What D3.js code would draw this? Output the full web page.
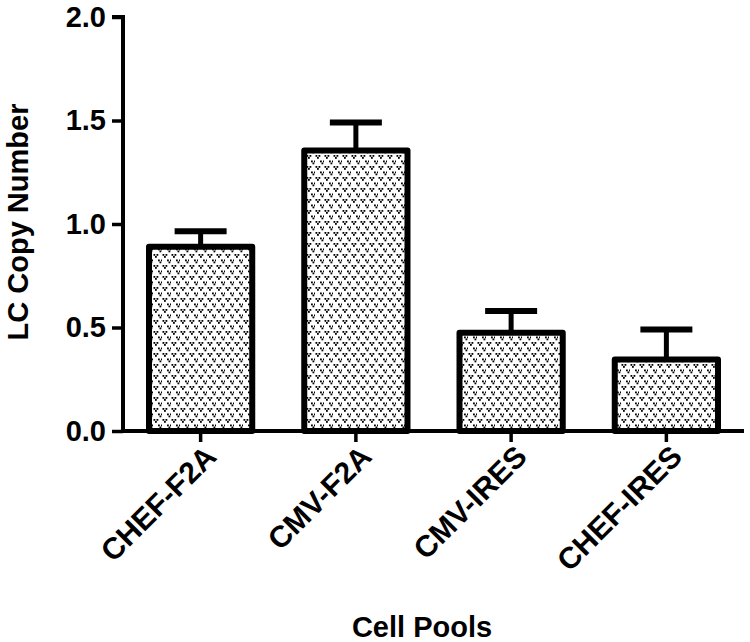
<!DOCTYPE html>
<html><head><meta charset="utf-8">
<script src="https://cdn.jsdelivr.net/npm/d3@7"></script>
<style>body{margin:0;background:#fff}svg{display:block}text{font-family:"Liberation Sans",Arial,sans-serif;font-weight:bold;fill:#000}</style>
</head><body>
<svg id="c" width="750" height="642"></svg>
<script>
const categories = ["CHEF-F2A", "CMV-F2A", "CMV-IRES", "CHEF-IRES"];
const values = [0.89, 1.355, 0.475, 0.345];
const errors = [0.075, 0.135, 0.105, 0.145];
const yTicks = [0.0, 0.5, 1.0, 1.5, 2.0];
const yLabel = "LC Copy Number";
const xLabel = "Cell Pools";

const svg = d3.select("#c");
const x0 = 123, x1 = 744, yTop = 17, yBot = 431;
const x = d3.scaleBand().domain(categories).range([x0, x1]).paddingInner(0.335).paddingOuter(0.1675);
const y = d3.scaleLinear().domain([0, 2]).range([yBot, yTop]);

const defs = svg.append("defs");
const pat = defs.append("pattern").attr("id", "dots").attr("patternUnits", "userSpaceOnUse")
  .attr("width", 9).attr("height", 11);
pat.append("rect").attr("width", 9).attr("height", 11).attr("fill", "#fff");
[[0.5, 1], [5, 6.5]].forEach(([ox, oy]) => {
  [[0, 0], [3, 0], [1.5, 2]].forEach(([dx, dy]) => {
    pat.append("rect").attr("x", ox + dx).attr("y", oy + dy).attr("width", 1.8).attr("height", 1.8).attr("fill", "#000");
  });
});

const bw = x.bandwidth();
const g = svg.append("g");
categories.forEach((c, i) => {
  const cx = x(c) + bw / 2;
  g.append("line").attr("x1", cx).attr("x2", cx).attr("y1", y(values[i])).attr("y2", y(values[i] + errors[i]))
    .attr("stroke", "#000").attr("stroke-width", 5);
  g.append("line").attr("x1", cx - 26).attr("x2", cx + 26).attr("y1", y(values[i] + errors[i])).attr("y2", y(values[i] + errors[i]))
    .attr("stroke", "#000").attr("stroke-width", 6);
  g.append("rect").attr("x", x(c)).attr("width", bw).attr("y", y(values[i])).attr("height", y(0) - y(values[i]))
    .attr("fill", "url(#dots)").attr("stroke", "#000").attr("stroke-width", 6).attr("stroke-linejoin", "round");
});

const fs = "29px";
const ya = svg.append("g").attr("transform", `translate(${x0},0)`)
  .call(d3.axisLeft(y).tickValues(yTicks).tickFormat(d3.format(".1f")).tickSize(11).tickPadding(6));
ya.select(".domain").attr("stroke-width", 4).attr("d", `M-11,${yTop}H0V${yBot}`);
ya.selectAll(".tick line").attr("stroke-width", 3.5);
ya.selectAll(".tick text").style("font-size", fs).style("font-family", null);

const xa = svg.append("g").attr("transform", `translate(0,${yBot})`)
  .call(d3.axisBottom(x).tickSize(11).tickPadding(10));
xa.select(".domain").attr("stroke-width", 4).attr("d", `M${x0},0H${x1}`);
xa.selectAll(".tick line").attr("stroke-width", 3.5);
xa.selectAll(".tick text").style("font-size", "30px").style("font-family", null)
  .attr("text-anchor", "end").attr("dy", "0.35em")
  .attr("transform", "translate(10,20) rotate(-45)").attr("y", 0).attr("x", 0);

svg.append("text").attr("transform", "translate(28,222) rotate(-90)").attr("text-anchor", "middle")
  .style("font-size", fs).text(yLabel);
svg.append("text").attr("x", 422).attr("y", 637).attr("text-anchor", "middle")
  .style("font-size", fs).text(xLabel);
</script>
</body></html>
